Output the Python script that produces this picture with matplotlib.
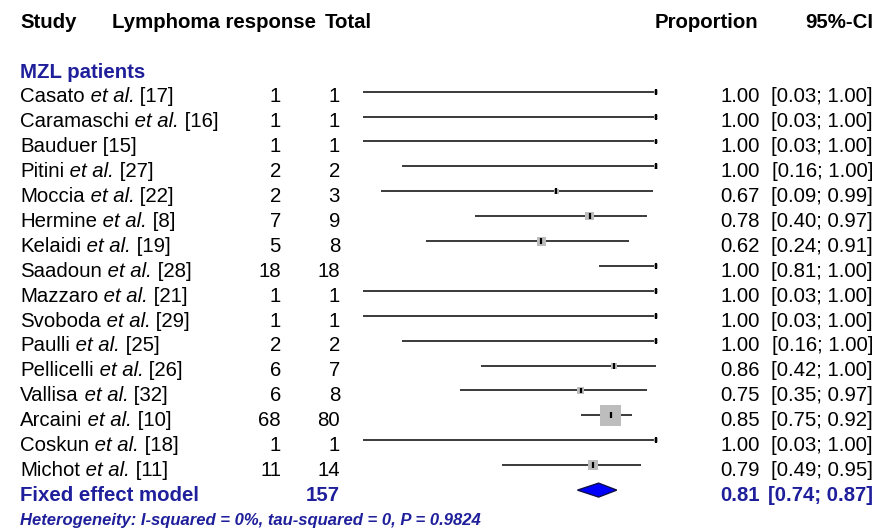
import matplotlib
matplotlib.use("Agg")
import matplotlib.pyplot as plt
from matplotlib.transforms import blended_transform_factory, offset_copy
from matplotlib.patches import Polygon

plt.rcParams['font.family'] = ['Liberation Sans', 'DejaVu Sans']

# ---- data ----
study_names = ["Casato", "Caramaschi", "Bauduer", "Pitini", "Moccia", "Hermine",
               "Kelaidi", "Saadoun", "Mazzaro", "Svoboda", "Paulli", "Pellicelli",
               "Vallisa", "Arcaini", "Coskun", "Michot"]
et_al = [True, True, False, True, True, True, True, True, True, True, True, True,
         True, True, True, True]
refs = ["[17]", "[16]", "[15]", "[27]", "[22]", "[8]", "[19]", "[28]", "[21]",
        "[29]", "[25]", "[26]", "[32]", "[10]", "[18]", "[11]"]
events = [1, 1, 1, 2, 2, 7, 5, 18, 1, 1, 2, 6, 6, 68, 1, 11]
totals = [1, 1, 1, 2, 3, 9, 8, 18, 1, 1, 2, 7, 8, 80, 1, 14]
props = [1.00, 1.00, 1.00, 1.00, 0.67, 0.78, 0.62, 1.00, 1.00, 1.00, 1.00, 0.86,
         0.75, 0.85, 1.00, 0.79]
lowers = [0.03, 0.03, 0.03, 0.16, 0.09, 0.40, 0.24, 0.81, 0.03, 0.03, 0.16, 0.42,
          0.35, 0.75, 0.03, 0.49]
uppers = [1.00, 1.00, 1.00, 1.00, 0.99, 0.97, 0.91, 1.00, 1.00, 1.00, 1.00, 1.00,
          0.97, 0.92, 1.00, 0.95]
fixed_total = 157
fixed_est, fixed_lo, fixed_hi = 0.81, 0.74, 0.87
group_label = "MZL patients"
hetero_text = "Heterogeneity: I-squared = 0%, tau-squared = 0, P = 0.9824"

# inverse-variance weights on logit scale (0.5 correction when needed)
weights = []
for e, n in zip(events, totals):
    inc = 0.5 if (e == 0 or e == n) else 0.0
    weights.append(1.0 / (1.0 / (e + inc) + 1.0 / (n - e + inc)))

W, H = 892, 528
fig = plt.figure(figsize=(W / 100, H / 100), dpi=100)
ax = fig.add_axes([0, 0, 1, 1])
ax.set_axis_off()

# x: proportion scale; 0 -> px 354, 1 -> px 656
x0_px, x1_px = 354.0, 656.0
scale = x1_px - x0_px
ax.set_xlim(-x0_px / scale, (W - x0_px) / scale)
row_h = 24.9
top_px = 17.0
ax.set_ylim((H - top_px) / row_h, -top_px / row_h)

tr_base = blended_transform_factory(fig.transFigure, ax.transData)
tr = offset_copy(tr_base, fig=fig, y=-5.3, units='dots')
def fx(px):
    return px / W

blue = "#1f1f9c"
fs = 14.7

# header
hdr = dict(fontsize=fs, fontweight='bold', va='center', transform=tr)
ax.text(fx(20), 0, "Study", ha='left', **hdr)
ax.text(fx(112), 0, "Lymphoma response", ha='left', **hdr)
ax.text(fx(372), 0, "Total", ha='right', **hdr)
ax.text(fx(758), 0, "Proportion", ha='right', **hdr)
ax.text(fx(873), 0, "95%-CI", ha='right', **hdr)

ax.text(fx(20), 2, group_label, ha='left', va='center', fontsize=fs,
        fontweight='bold', color=blue, transform=tr)

for i, name in enumerate(study_names):
    y = 3 + i
    t = ax.text(fx(20), y, name, ha='left', va='center', fontsize=fs, transform=tr)
    if et_al[i]:
        t = ax.annotate(" et al.", xy=(1, 0), xycoords=t, ha='left', va='bottom',
                        fontsize=fs, fontstyle='italic')
    ax.annotate(" " + refs[i], xy=(1, 0), xycoords=t, ha='left', va='bottom',
                fontsize=fs)
    ax.text(fx(281), y, str(events[i]), ha='right', va='center', fontsize=fs, transform=tr)
    ax.text(fx(340), y, str(totals[i]), ha='right', va='center', fontsize=fs, transform=tr)
    ax.text(fx(760), y, f"{props[i]:.2f}", ha='right', va='center', fontsize=fs, transform=tr)
    ax.text(fx(873), y, f"[{lowers[i]:.2f}; {uppers[i]:.2f}]", ha='right',
            va='center', fontsize=fs, transform=tr)
    # CI line
    ax.plot([lowers[i], uppers[i]], [y, y], color='#2b2b2b', lw=1.3,
            solid_capstyle='butt', zorder=2)
    # weight square
    ax.scatter([props[i]], [y], s=22 * weights[i], marker='s', color='#bdbdbd',
               edgecolors='none', zorder=3)
    # estimate tick
    ax.plot([props[i], props[i]], [y - 0.12, y + 0.12], color='black', lw=1.6,
            solid_capstyle='butt', zorder=4)

# fixed effect row
yf = 3 + len(study_names)
ax.text(fx(20), yf, "Fixed effect model", ha='left', va='center', fontsize=fs,
        fontweight='bold', color=blue, transform=tr)
ax.text(fx(340), yf, str(fixed_total), ha='right', va='center', fontsize=fs,
        fontweight='bold', color=blue, transform=tr)
ax.text(fx(760), yf, f"{fixed_est:.2f}", ha='right', va='center', fontsize=fs,
        fontweight='bold', color=blue, transform=tr)
ax.text(fx(873), yf, f"[{fixed_lo:.2f}; {fixed_hi:.2f}]", ha='right', va='center',
        fontsize=fs, fontweight='bold', color=blue, transform=tr)
dh = 0.28
diamond = Polygon([[fixed_lo, yf], [fixed_est, yf - dh], [fixed_hi, yf],
                   [fixed_est, yf + dh]], closed=True, facecolor='#0000ff',
                  edgecolor='#10104a', lw=1.0, zorder=3)
ax.add_patch(diamond)

ax.text(fx(20), yf + 1, hetero_text, ha='left', va='center', fontsize=12,
        fontweight='bold', fontstyle='italic', color=blue, transform=tr)

fig.savefig("out.png", dpi=100, facecolor='white')
